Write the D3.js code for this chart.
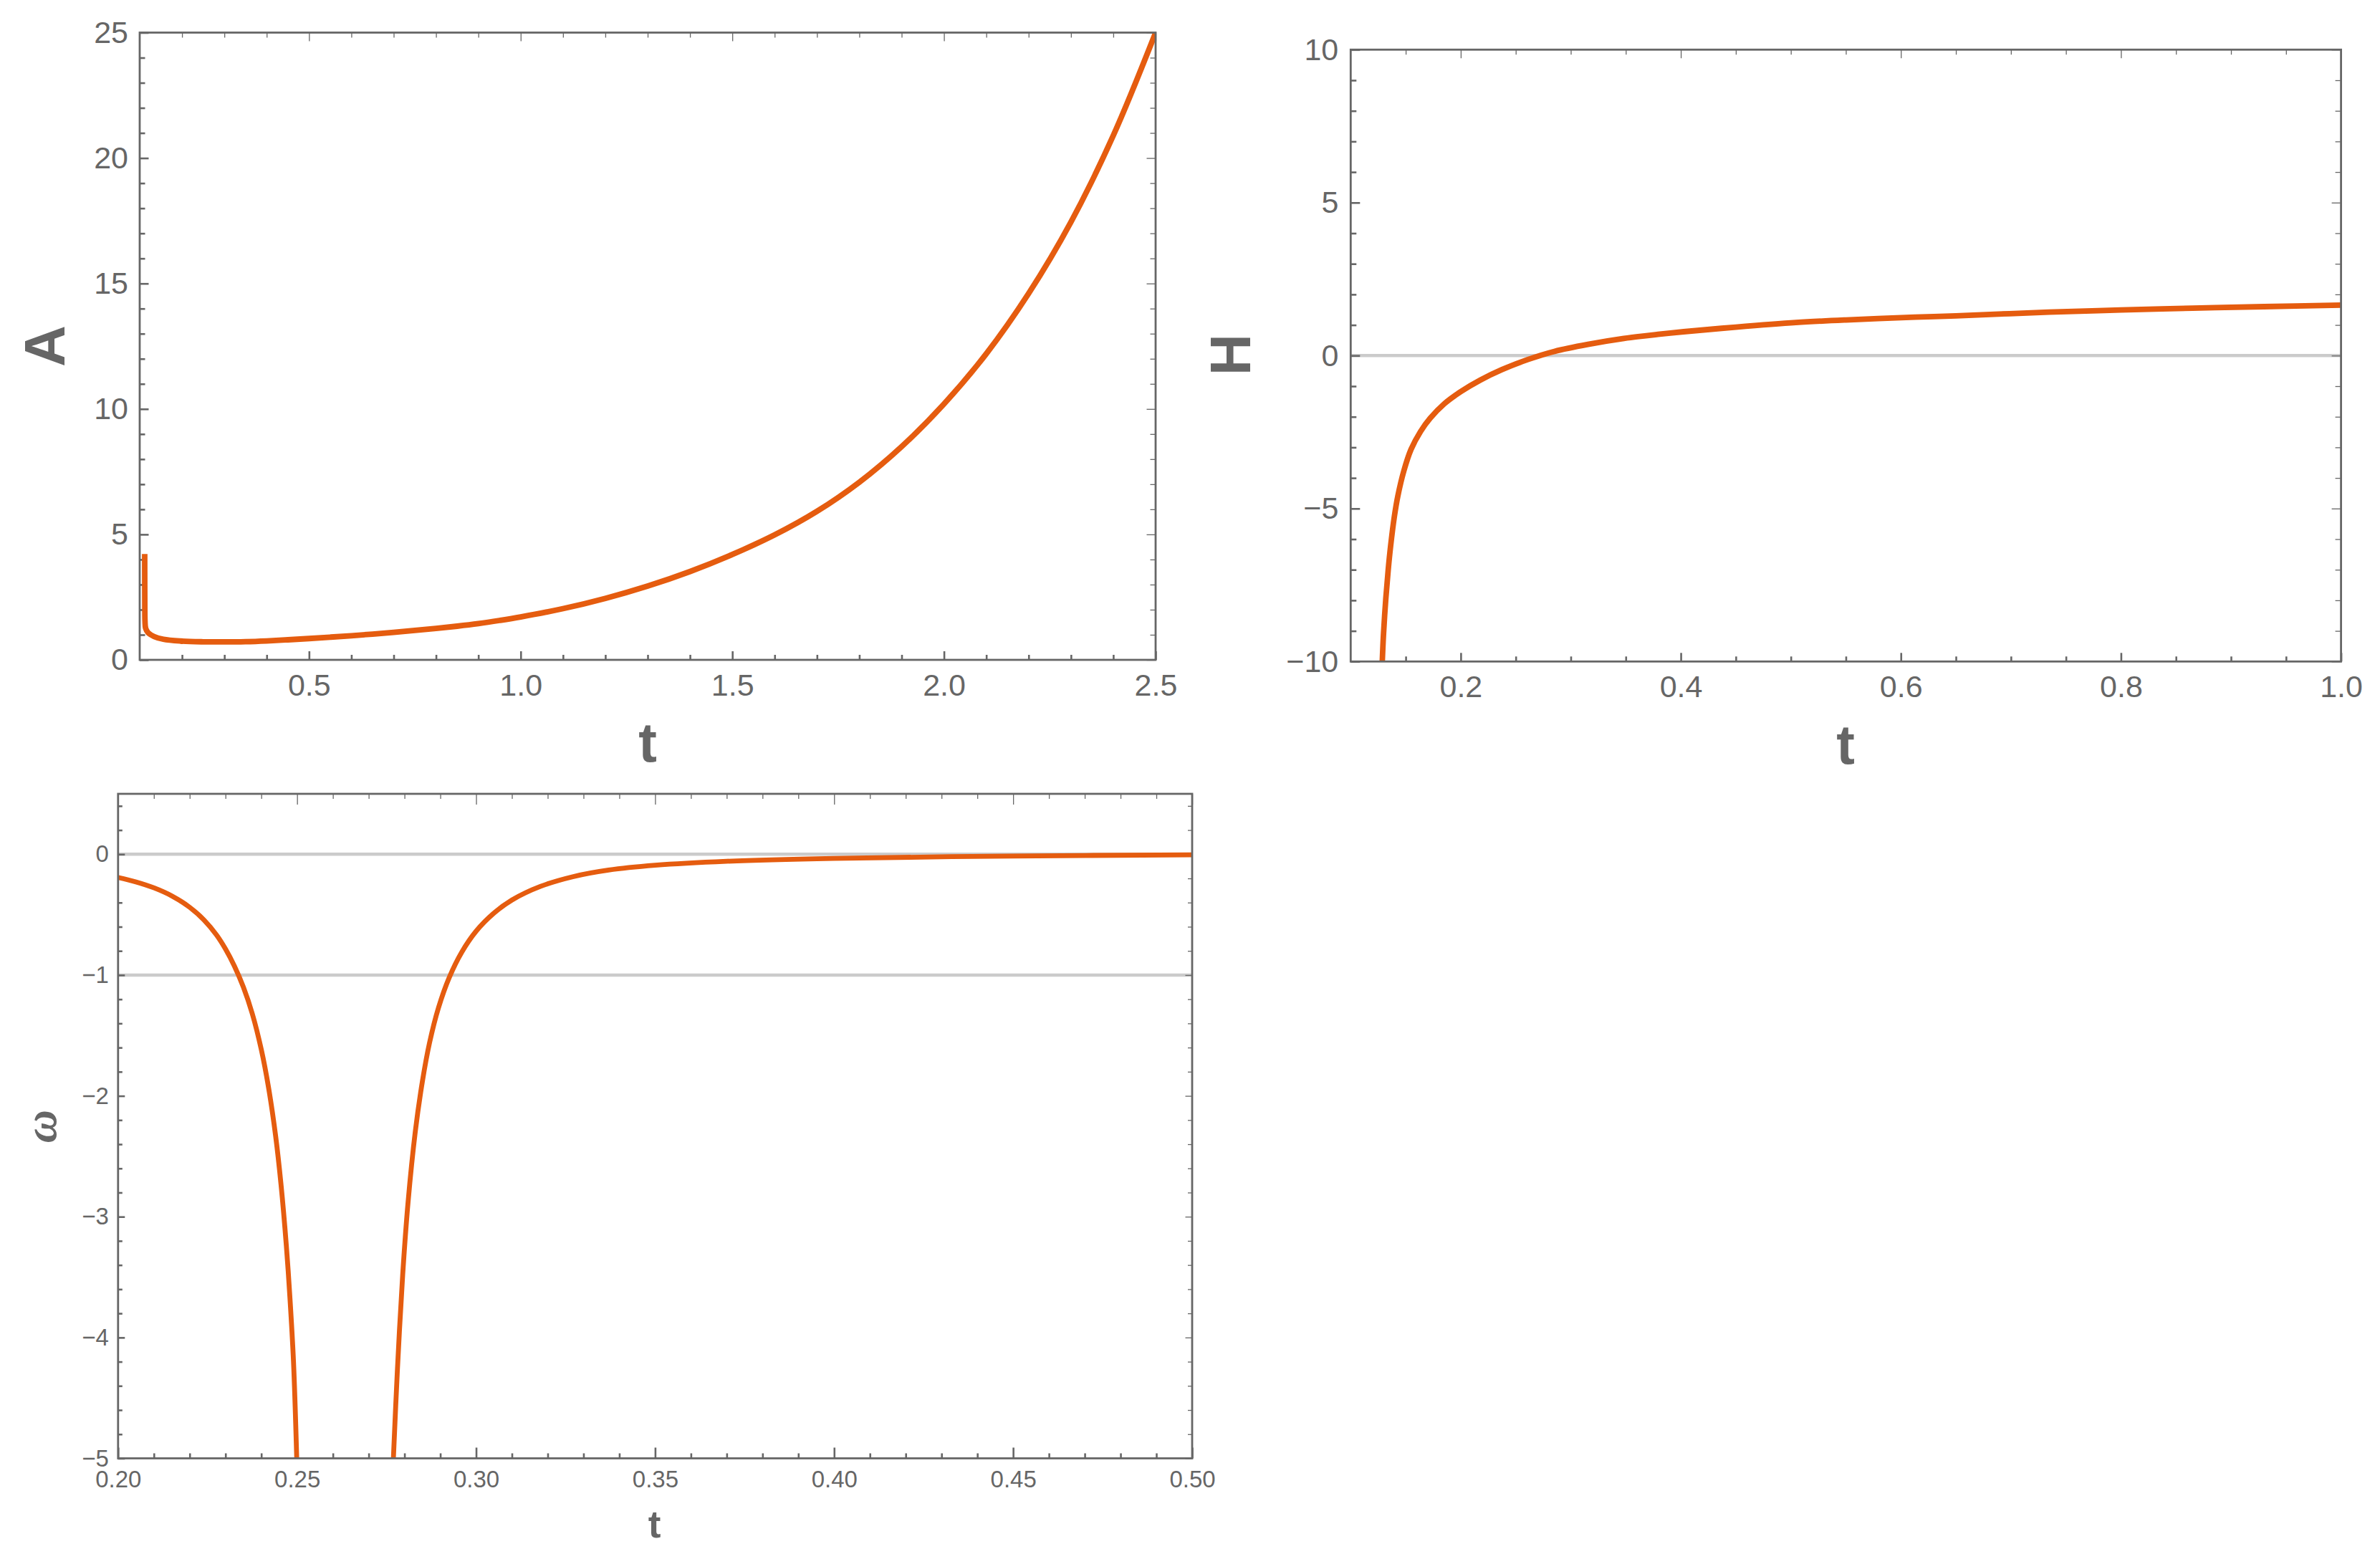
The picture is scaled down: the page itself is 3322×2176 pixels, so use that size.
<!DOCTYPE html>
<html><head><meta charset="utf-8">
<script src="https://cdn.jsdelivr.net/npm/d3@7"></script>
<style>
html,body{margin:0;padding:0;background:#fff;}
svg{display:block;}
</style></head>
<body>
<svg id="chart" width="3322" height="2176"></svg>
<script>
// ---------- Panel 1 : A(t) ----------
const tA = [0.1118, 0.1119, 0.1121, 0.1125, 0.114, 0.1198, 0.134, 0.156, 0.196, 0.25, 0.30, 0.35, 0.40, 0.45, 0.50,
            0.55, 0.60, 0.65, 0.70, 0.75, 0.80, 0.85, 0.90, 0.95, 1.00, 1.10, 1.20, 1.30, 1.40, 1.50, 1.60, 1.70,
            1.80, 1.90, 2.00, 2.10, 2.20, 2.30, 2.40, 2.50];
const valA = [4.22, 3.0, 2.0, 1.55, 1.26, 1.08, 0.93, 0.82, 0.75, 0.72, 0.715, 0.725, 0.755, 0.80, 0.85,
              0.905, 0.963, 1.027, 1.097, 1.172, 1.253, 1.342, 1.445, 1.57, 1.71, 2.04, 2.45, 2.94, 3.52, 4.20, 4.98, 5.92,
              7.08, 8.5, 10.2, 12.2, 14.6, 17.45, 20.9, 25.0];
const xTicksA = [0.5, 1.0, 1.5, 2.0, 2.5];
const yTicksA = [0, 5, 10, 15, 20, 25];

// ---------- Panel 2 : H(t) ----------
const tH = [0.1287, 0.1298, 0.1318, 0.1341, 0.1363, 0.1396, 0.1428, 0.1483, 0.1548, 0.1635, 0.1722, 0.1852, 0.2004,
            0.2178, 0.2374, 0.2613, 0.2852, 0.3157, 0.3483, 0.3809, 0.4026, 0.45, 0.5046, 0.55, 0.613, 0.65, 0.7346,
            0.8, 0.8649, 0.93, 1.0];
const valH = [-10, -9.12, -8.0, -7.0, -6.22, -5.28, -4.6, -3.77, -3.07, -2.48, -2.05, -1.57, -1.17,
              -0.80, -0.46, -0.125, 0.138, 0.367, 0.56, 0.70, 0.78, 0.93, 1.08, 1.165, 1.255, 1.30, 1.42,
              1.49, 1.55, 1.60, 1.65];
const xTicksH = [0.2, 0.4, 0.6, 0.8, 1.0];
const yTicksH = [-10, -5, 0, 5, 10];
const refH = [0];

// ---------- Panel 3 : omega(t) ----------
const tWLeft = [0.200, 0.205, 0.210, 0.215, 0.220, 0.224, 0.2275, 0.230, 0.2325, 0.235, 0.2375, 0.240, 0.242,
                0.244, 0.2455, 0.247, 0.248, 0.249, 0.2499];
const valWLeft = [-0.192, -0.229, -0.278, -0.345, -0.439, -0.544, -0.668, -0.784, -0.926, -1.100, -1.321, -1.616, -1.926,
                  -2.33, -2.73, -3.24, -3.67, -4.20, -5.0];
const tWRight = [0.2769, 0.278, 0.2795, 0.281, 0.283, 0.285, 0.287, 0.2895, 0.2925, 0.296, 0.300, 0.305, 0.310,
                 0.318, 0.327, 0.337, 0.35, 0.37, 0.40, 0.45, 0.50];
const valWRight = [-5.0, -4.28, -3.48, -2.88, -2.30, -1.88, -1.56, -1.27, -1.02, -0.81, -0.637, -0.487, -0.379,
                   -0.266, -0.186, -0.131, -0.091, -0.058, -0.034, -0.015, -0.005];
const xTicksW = [0.20, 0.25, 0.30, 0.35, 0.40, 0.45, 0.50];
const yTicksW = [-5, -4, -3, -2, -1, 0];
const refW = [0, -1];

// ---------- drawing ----------
const svg = d3.select('#chart');
const SANS = "'Liberation Sans', Arial, Helvetica, sans-serif";
const GREY = '#666666';
const CURVE = 'rgb(229,92,15)';

function minors(lo, hi, step, majorStep) {
  const out = [];
  const n = Math.round((hi - lo) / step);
  for (let i = 0; i <= n; i++) {
    const v = +(lo + i * step).toFixed(6);
    const r = v / majorStep;
    if (Math.abs(r - Math.round(r)) > 1e-6) out.push(v);
  }
  return out;
}
function zip(ts, vs) { return ts.map((t, i) => ({t: t, v: vs[i]})); }

const panels = [
  {
    box: {l: 195, r: 1613, t: 45.5, b: 921},
    xDom: [0.1, 2.5], yDom: [0, 25],
    xMajor: xTicksA, xMinor: minors(0.2, 2.4, 0.1, 0.5),
    yMajor: yTicksA, yMinor: minors(1, 24, 1, 5),
    fmtX: d3.format('.1f'), fmtY: d3.format('d'),
    tickFont: 43, xPad: 19.5, yPad: 16,
    xMajLen: 12, xMinLen: 7, yMajLen: 12.5, yMinLen: 7.5,
    series: [zip(tA, valA)], refs: [], sw: 7.8,
    xLabel: {text: 't', x: 904, y: 1063, size: 77},
    yLabel: {text: 'A', x: 90, y: 483, size: 80, family: SANS, style: 'normal'}
  },
  {
    box: {l: 1885.3, r: 3267.6, t: 69.3, b: 923.3},
    xDom: [0.1, 1.0], yDom: [-10, 10],
    xMajor: xTicksH, xMinor: minors(0.15, 0.95, 0.05, 0.2),
    yMajor: yTicksH, yMinor: minors(-9, 9, 1, 5),
    fmtX: d3.format('.1f'), fmtY: d3.format('d'),
    tickFont: 43, xPad: 19, yPad: 17,
    xMajLen: 12, xMinLen: 7, yMajLen: 13, yMinLen: 8,
    series: [zip(tH, valH)], refs: refH, sw: 7.8,
    xLabel: {text: 't', x: 2576, y: 1066, size: 77},
    yLabel: {text: 'H', x: 1745, y: 495, size: 80, family: SANS, style: 'normal'}
  },
  {
    box: {l: 164.8, r: 1664, t: 1108, b: 2035.5},
    xDom: [0.2, 0.5], yDom: [-5, 0.5],
    xMajor: xTicksW, xMinor: minors(0.21, 0.49, 0.01, 0.05),
    yMajor: yTicksW, yMinor: minors(-4.8, 0.4, 0.2, 1),
    fmtX: d3.format('.2f'), fmtY: d3.format('d'),
    tickFont: 33, xPad: 17, yPad: 13,
    xMajLen: 15, xMinLen: 7, yMajLen: 9.5, yMinLen: 6,
    series: [zip(tWLeft, valWLeft), zip(tWRight, valWRight)], refs: refW, sw: 6.8,
    xLabel: {text: 't', x: 913.5, y: 2146, size: 53},
    yLabel: {text: 'ω', x: 78, y: 1572, size: 64, family: "'Liberation Serif', 'Times New Roman', serif", style: 'italic'}
  }
];

panels.forEach((p, idx) => {
  const x = d3.scaleLinear().domain(p.xDom).range([p.box.l, p.box.r]);
  const y = d3.scaleLinear().domain(p.yDom).range([p.box.b, p.box.t]);
  const g = svg.append('g');

  const clipId = 'clip' + idx;
  svg.append('defs').append('clipPath').attr('id', clipId)
    .append('rect').attr('x', p.box.l).attr('y', p.box.t)
    .attr('width', p.box.r - p.box.l).attr('height', p.box.b - p.box.t);

  g.selectAll('line.ref').data(p.refs).enter().append('line')
    .attr('x1', p.box.l).attr('x2', p.box.r)
    .attr('y1', d => y(d)).attr('y2', d => y(d))
    .attr('stroke', '#cbcbcb').attr('stroke-width', 4.5);

  function axis(fn, scale, values, len, fmt, pad, sw, transform) {
    const ax = fn(scale).tickValues(values).tickSizeInner(-len).tickSizeOuter(0)
      .tickPadding(pad).tickFormat(fmt ? fmt : () => '');
    const s = g.append('g').attr('transform', transform).call(ax);
    s.select('.domain').remove();
    s.selectAll('line').attr('stroke', GREY).attr('stroke-width', sw);
    s.selectAll('text').attr('fill', GREY)
      .style('font-size', p.tickFont + 'px').style('font-family', SANS);
    return s;
  }
  const tb = `translate(0,${p.box.b})`, tt = `translate(0,${p.box.t})`;
  const tl = `translate(${p.box.l},0)`, tr = `translate(${p.box.r},0)`;
  axis(d3.axisBottom, x, p.xMajor, p.xMajLen, p.fmtX, p.xPad, 2.6, tb);
  axis(d3.axisBottom, x, p.xMinor, p.xMinLen, null, p.xPad, 2.6, tb);
  axis(d3.axisLeft, y, p.yMajor, p.yMajLen, p.fmtY, p.yPad, 2.6, tl);
  axis(d3.axisLeft, y, p.yMinor, p.yMinLen, null, p.yPad, 2.6, tl);
  axis(d3.axisTop, x, p.xMajor, p.xMajLen, null, 0, 1.3, tt);
  axis(d3.axisTop, x, p.xMinor, p.xMinLen, null, 0, 1.3, tt);
  axis(d3.axisRight, y, p.yMajor, p.yMajLen, null, 0, 1.3, tr);
  axis(d3.axisRight, y, p.yMinor, p.yMinLen, null, 0, 1.3, tr);

  const line = d3.line().x(d => x(d.t)).y(d => y(d.v)).curve(d3.curveCatmullRom.alpha(0.5));
  g.append('g').attr('clip-path', `url(#${clipId})`)
    .selectAll('path').data(p.series).enter().append('path')
    .attr('d', line).attr('fill', 'none').attr('stroke', CURVE)
    .attr('stroke-width', p.sw).attr('stroke-linejoin', 'round').attr('stroke-linecap', 'butt');

  g.append('rect').attr('x', p.box.l).attr('y', p.box.t)
    .attr('width', p.box.r - p.box.l).attr('height', p.box.b - p.box.t)
    .attr('fill', 'none').attr('stroke', GREY).attr('stroke-width', 2.8);

  g.append('text').text(p.xLabel.text)
    .attr('x', p.xLabel.x).attr('y', p.xLabel.y)
    .attr('text-anchor', 'middle').attr('fill', GREY)
    .style('font-family', SANS).style('font-weight', 'bold').style('font-size', p.xLabel.size + 'px');
  g.append('text').text(p.yLabel.text)
    .attr('transform', `translate(${p.yLabel.x},${p.yLabel.y}) rotate(-90)`)
    .attr('text-anchor', 'middle').attr('fill', GREY)
    .style('font-family', p.yLabel.family).style('font-style', p.yLabel.style)
    .style('font-weight', 'bold').style('font-size', p.yLabel.size + 'px');
});
</script>
</body></html>
